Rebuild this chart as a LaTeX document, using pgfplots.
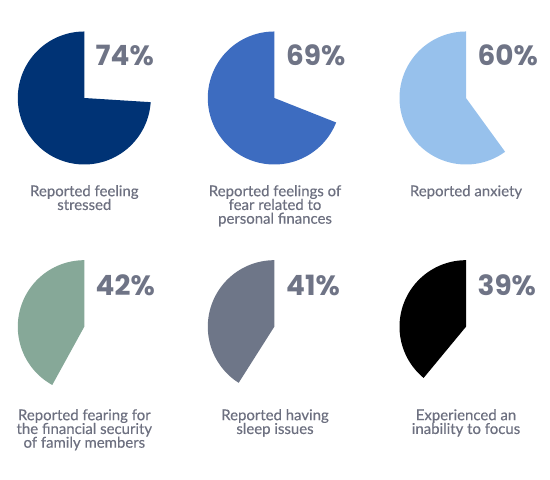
\documentclass[border=0pt]{standalone}
\usepackage{fontspec}
\setmainfont{Lato}
\newfontfamily\labfont{Lato}[FakeBold=0.35]
\newfontfamily\numfont{Poppins}
\usepackage{pgfplots}
\pgfplotsset{compat=1.18}
\definecolor{cnavy}{HTML}{003375}
\definecolor{cblue}{HTML}{3D6CC0}
\definecolor{clight}{HTML}{97C1EC}
\definecolor{csage}{HTML}{86A898}
\definecolor{cslate}{HTML}{6E7688}
\definecolor{cblack}{HTML}{000000}
\definecolor{numgray}{HTML}{6F7486}
\definecolor{labgray}{HTML}{6D7080}
% #1 centre x, #2 centre y, #3 percentage, #4 colour
\newcommand{\pie}[4]{%
  \addplot[fill=#4, draw=none, domain=90:{90+3.6*#3}, samples=181]
    ({#1+66.5*cos(x)},{#2+66.5*sin(x)}) -- (axis cs:#1,#2) -- cycle;
}
\begin{document}
\begin{tikzpicture}
\begin{axis}[width=550bp, height=480bp, scale only axis,
  xmin=0, xmax=550, ymin=0, ymax=480,
  axis line style={draw=none}, ticks=none, clip=false]
\pie{84.3}{382}{74}{cnavy}
\pie{274.3}{382}{69}{cblue}
\pie{466}{382}{60}{clight}
\pie{84.3}{153.3}{42}{csage}
\pie{274.3}{153.3}{41}{cslate}
\pie{466}{153.3}{39}{cblack}
\tikzset{pct/.style={anchor=west, inner sep=0, text=numgray,
    font=\numfont\bfseries\fontsize{28}{28}\selectfont},
  lab/.style={anchor=north, align=center, inner sep=0, text=labgray,
    font=\labfont\fontsize{15}{13.8}\selectfont}}
\node[pct] at (axis cs:95.5,425) {74\%};
\node[pct] at (axis cs:286,425) {69\%};
\node[pct] at (axis cs:477.5,425) {60\%};
\node[pct] at (axis cs:95.5,194.5) {42\%};
\node[pct] at (axis cs:286,194.5) {41\%};
\node[pct] at (axis cs:477.5,194.5) {39\%};
\node[lab] at (axis cs:84.3,295) {Reported feeling\\stressed};
\node[lab] at (axis cs:275,295) {Reported feelings of\\fear related to\\personal finances};
\node[lab] at (axis cs:466,295) {Reported anxiety};
\node[lab] at (axis cs:84.3,71) {Reported fearing for\\the financial security\\of family members};
\node[lab] at (axis cs:275,71) {Reported having\\sleep issues};
\node[lab] at (axis cs:466,71) {Experienced an\\inability to focus};
\end{axis}
\end{tikzpicture}
\end{document}
